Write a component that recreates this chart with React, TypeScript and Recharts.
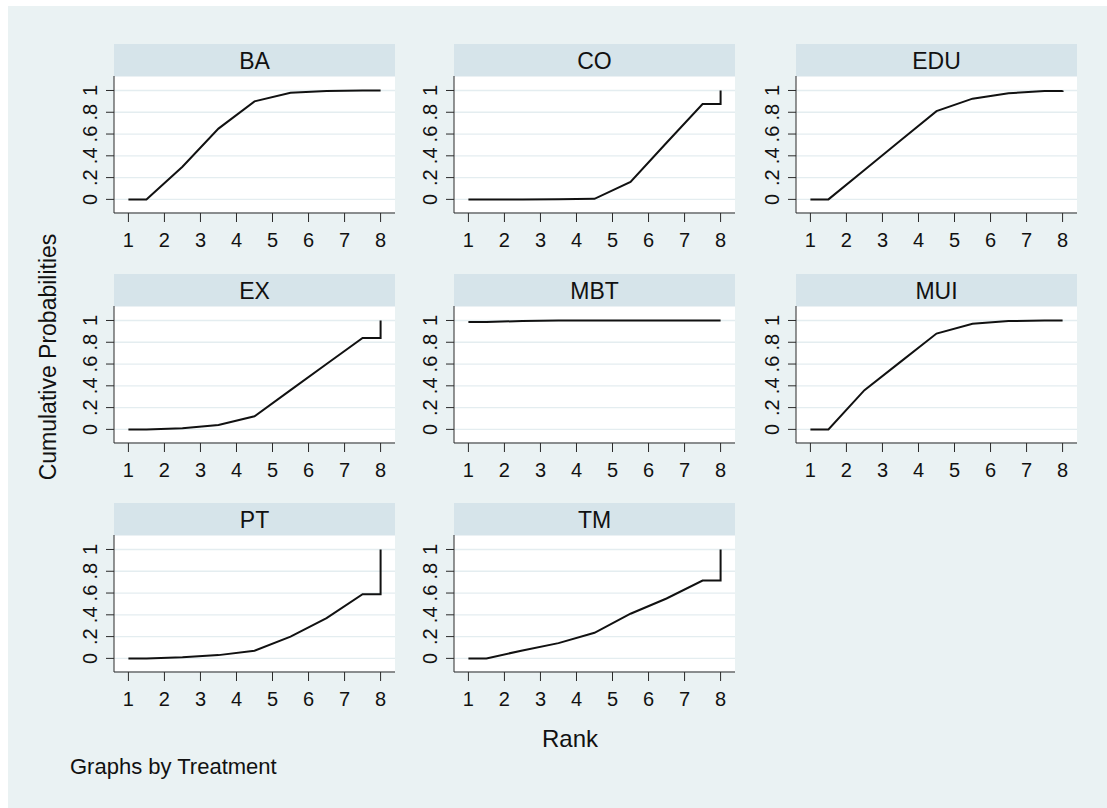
import React from 'react';
import { LineChart, Line, XAxis, YAxis, CartesianGrid } from 'recharts';

// ---------- data ----------
const rankPositions = [1, 1.5, 2.5, 3.5, 4.5, 5.5, 6.5, 7.5, 8, 8];
const BA = [0, 0, 0.3, 0.65, 0.9, 0.98, 0.995, 1, 1, 1];
const CO = [0, 0, 0, 0.002, 0.005, 0.16, 0.52, 0.875, 0.875, 1];
const EDU = [0, 0, 0.27, 0.54, 0.81, 0.925, 0.975, 0.995, 0.995, 1];
const EX = [0, 0, 0.01, 0.04, 0.12, 0.36, 0.6, 0.84, 0.84, 1];
const MBT = [0.985, 0.985, 0.996, 0.999, 1, 1, 1, 1, 1, 1];
const MUI = [0, 0, 0.36, 0.62, 0.88, 0.97, 0.995, 1, 1, 1];
const PT = [0, 0, 0.01, 0.03, 0.07, 0.2, 0.37, 0.59, 0.59, 1];
const TM = [0, 0, 0.073, 0.14, 0.235, 0.41, 0.55, 0.715, 0.715, 1];

const treatments = ['BA', 'CO', 'EDU', 'EX', 'MBT', 'MUI', 'PT', 'TM'];
const seriesValues = [BA, CO, EDU, EX, MBT, MUI, PT, TM];

const xTicks = [1, 2, 3, 4, 5, 6, 7, 8];
const yTicks = [0, 0.2, 0.4, 0.6, 0.8, 1];
const yTickLabels = ['0', '.2', '.4', '.6', '.8', '1'];

const yAxisTitle = 'Cumulative Probabilities';
const xAxisTitle = 'Rank';
const note = 'Graphs by Treatment';

// ---------- layout / style ----------
const FONT = '"Liberation Sans", Arial, Helvetica, sans-serif';
const BG = '#EAF2F3';
const STRIP = '#D6E4EA';
const GRID = '#E4EDF0';
const AXIS = '#2a2a2a';
const colLeft = [114, 454, 796];
const rowTop = [44, 274, 503];
const headerH = 32;
const plotW = 281;
const plotH = 137;
const yAxisW = 40;
const xAxisH = 45;

const XTick = (props: any) => (
  <text
    x={props.x}
    y={props.y + 23}
    textAnchor="middle"
    fontSize={20}
    fontFamily={FONT}
    fill="#111"
  >
    {props.payload.value}
  </text>
);

const YTick = (props: any) => {
  const idx = yTicks.findIndex((t) => Math.abs(t - props.payload.value) < 1e-6);
  const tx = props.x - 7;
  const ty = props.y;
  return (
    <text
      x={tx}
      y={ty}
      transform={`rotate(-90 ${tx} ${ty})`}
      textAnchor="middle"
      fontSize={20}
      fontFamily={FONT}
      fill="#111"
    >
      {idx >= 0 ? yTickLabels[idx] : ''}
    </text>
  );
};

function Panel({ values, left, top }: { values: number[]; left: number; top: number }) {
  const data = rankPositions.map((r, i) => ({ rank: r, p: values[i] }));
  return (
    <div style={{ position: 'absolute', left: left - yAxisW, top: top + headerH }}>
      <LineChart
        width={yAxisW + plotW}
        height={plotH + xAxisH}
        data={data}
        margin={{ top: 0, right: 0, bottom: 0, left: 0 }}
      >
        <CartesianGrid vertical={false} stroke={GRID} strokeWidth={1.3} fill="#ffffff" fillOpacity={1} />
        <XAxis
          dataKey="rank"
          type="number"
          domain={[0.6, 8.4]}
          ticks={xTicks}
          interval={0}
          height={xAxisH}
          tickSize={9}
          tickMargin={2}
          axisLine={{ stroke: AXIS }}
          tickLine={{ stroke: AXIS }}
          tick={XTick}
          allowDataOverflow
        />
        <YAxis
          type="number"
          domain={[-0.125, 1.133]}
          ticks={yTicks}
          interval={0}
          width={yAxisW}
          tickSize={8}
          tickMargin={2}
          axisLine={{ stroke: AXIS }}
          tickLine={{ stroke: AXIS }}
          tick={YTick}
          allowDataOverflow
        />
        <Line
          type="linear"
          dataKey="p"
          stroke="#111"
          strokeWidth={2}
          dot={false}
          activeDot={false}
          isAnimationActive={false}
        />
      </LineChart>
    </div>
  );
}

export default function App() {
  const panels = treatments.map((name, i) => ({
    name,
    values: seriesValues[i],
    left: colLeft[i % 3],
    top: rowTop[Math.floor(i / 3)],
  }));
  return (
    <div
      style={{
        position: 'absolute',
        left: 0,
        top: 0,
        width: 1107,
        height: 808,
        background: '#ffffff',
        fontFamily: FONT,
        overflow: 'hidden',
      }}
    >
      <div style={{ position: 'absolute', left: 8, top: 6, width: 1099, height: 802, background: BG }} />
      <svg style={{ position: 'absolute', left: 0, top: 0 }} width={1107} height={808}>
        {panels.map((p) => (
          <g key={p.name}>
            <rect x={p.left} y={p.top} width={plotW} height={headerH} fill={STRIP} />
            <text
              x={p.left + plotW / 2}
              y={p.top + 24.5}
              textAnchor="middle"
              fontSize={23}
              fontFamily={FONT}
              fill="#111"
            >
              {p.name}
            </text>
          </g>
        ))}
        <text
          x={56}
          y={357}
          transform="rotate(-90 56 357)"
          textAnchor="middle"
          fontSize={23}
          fontFamily={FONT}
          fill="#111"
        >
          {yAxisTitle}
        </text>
        <text x={570} y={747} textAnchor="middle" fontSize={24} fontFamily={FONT} fill="#111">
          {xAxisTitle}
        </text>
        <text x={70} y={774} fontSize={22} fontFamily={FONT} fill="#111">
          {note}
        </text>
      </svg>
      {panels.map((p) => (
        <Panel key={p.name} values={p.values} left={p.left} top={p.top} />
      ))}
    </div>
  );
}
